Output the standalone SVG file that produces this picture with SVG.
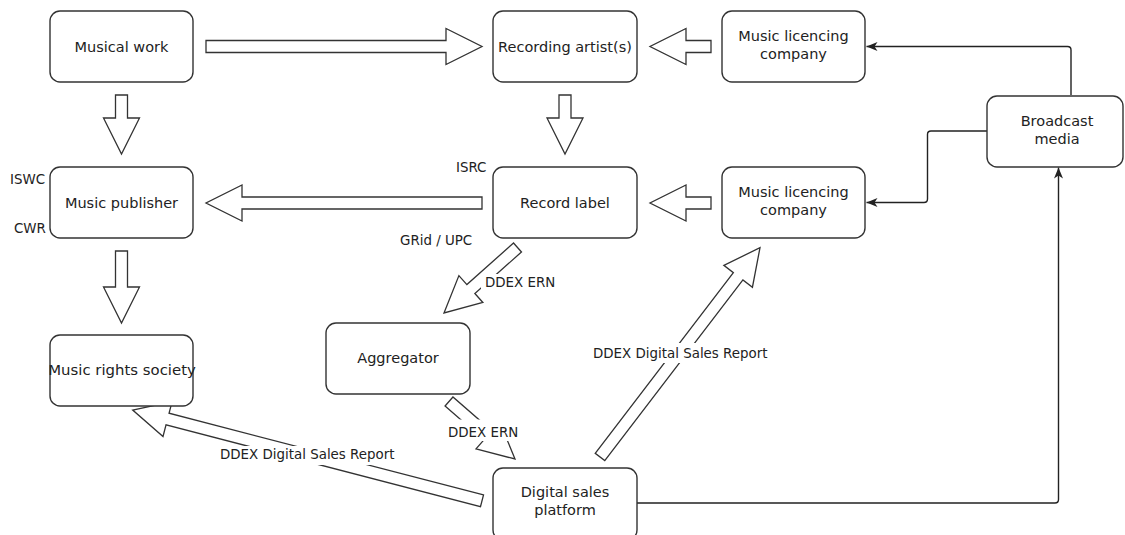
<svg xmlns="http://www.w3.org/2000/svg" width="1125" height="535" viewBox="0 0 1125 535">
<style>
.box{fill:#fff;stroke:#333;stroke-width:1.4}
.t{font-family:"DejaVu Sans","Liberation Sans",sans-serif;font-size:14.5px;fill:#222;text-anchor:middle}
.lb{font-family:"DejaVu Sans","Liberation Sans",sans-serif;font-size:13.4px;fill:#222}
.blk{fill:#fff;stroke:#333;stroke-width:1.3;stroke-linejoin:miter}
.ln{fill:none;stroke:#222;stroke-width:1.4}
.bg{fill:#fff}
</style>
<defs>
<marker id="ah" markerUnits="userSpaceOnUse" markerWidth="12" markerHeight="10" refX="11" refY="5" orient="auto">
<path d="M0,0.5 L11,5 L0,9.5 L3,5 Z" fill="#222"/>
</marker>
</defs>
<rect width="1125" height="535" fill="#fff"/>

<g id="connectors">
<polygon class="blk" points="206,40.5 446,40.5 446,28.5 482,46.5 446,64.5 446,52.5 206,52.5"/>
<polygon class="blk" points="711,40.5 686,40.5 686,28.5 650,46.5 686,64.5 686,52.5 711,52.5"/>
<polygon class="blk" points="115.5,95 127.5,95 127.5,118 139.5,118 121.5,154 103.5,118 115.5,118"/>
<polygon class="blk" points="559,95 571,95 571,118 583,118 565,154 547,118 559,118"/>
<polygon class="blk" points="482,197 242,197 242,185 206,203 242,221 242,209 482,209"/>
<polygon class="blk" points="711,197 686,197 686,185 650,203 686,221 686,209 711,209"/>
<polygon class="blk" points="115.5,251 127.5,251 127.5,287 139.5,287 121.5,323 103.5,287 115.5,287"/>
<polygon class="blk" points="513.51,243.02 466.89,284.57 458.90,275.61 444,313 482.86,302.49 474.87,293.53 521.49,251.98"/>
<polygon class="blk" points="445.06,406.02 483.92,439.87 476.04,448.92 515,459 499.68,421.78 491.80,430.83 452.94,396.98"/>
<polygon class="blk" points="483.51,494.99 169.05,413.25 172.07,401.64 132.7,410 163.01,436.48 166.03,424.87 480.49,506.61"/>
<polygon class="blk" points="604.77,460.64 742.91,279.94 752.44,287.23 760,247.7 723.84,265.37 733.37,272.66 595.23,453.36"/>
<path class="ln" d="M1071,95 V50 Q1071,46.5 1067.5,46.5 H866.5" marker-end="url(#ah)"/>
<path class="ln" d="M987,131 H931 Q927.5,131 927.5,134.5 V199 Q927.5,202.5 924,202.5 H866.5" marker-end="url(#ah)"/>
<path class="ln" d="M637,503 H1055 Q1058.5,503 1058.5,499.5 V167.5" marker-end="url(#ah)"/>
<g id="labels">
<rect class="bg" x="481" y="274" width="74" height="18"/>
<text class="lb" x="485" y="287">DDEX ERN</text>
<rect class="bg" x="445" y="419.5" width="73" height="21.5"/>
<text class="lb" x="448" y="436.5">DDEX ERN</text>
<rect class="bg" x="216" y="446" width="183" height="19"/>
<text class="lb" x="220" y="459">DDEX Digital Sales Report</text>
<rect class="bg" x="589" y="343" width="183" height="20"/>
<text class="lb" x="593" y="357.5">DDEX Digital Sales Report</text>
<text class="lb" x="10" y="184">ISWC</text>
<text class="lb" x="14" y="233">CWR</text>
<text class="lb" x="456" y="171.5">ISRC</text>
<text class="lb" x="400" y="245">GRid / UPC</text>
</g>
</g>

<g id="musical-work"><rect class="box" x="50" y="11" width="143" height="71" rx="10"/><text class="t" x="121.5" y="51.5">Musical work</text></g>
<g id="recording-artists"><rect class="box" x="493" y="11" width="144" height="71" rx="10"/><text class="t" x="565" y="51.5">Recording artist(s)</text></g>
<g id="music-licencing-top"><rect class="box" x="722" y="11" width="143" height="71" rx="10"/><text class="t" x="793.5" y="41">Music licencing</text><text class="t" x="793.5" y="59">company</text></g>
<g id="broadcast-media"><rect class="box" x="987" y="96" width="136" height="71" rx="10"/><text class="t" x="1057" y="126">Broadcast</text><text class="t" x="1057" y="144">media</text></g>
<g id="music-publisher"><rect class="box" x="50" y="167" width="143" height="71" rx="10"/><text class="t" x="121.5" y="207.5">Music publisher</text></g>
<g id="record-label"><rect class="box" x="493" y="167" width="144" height="71" rx="10"/><text class="t" x="565" y="207.5">Record label</text></g>
<g id="music-licencing-mid"><rect class="box" x="722" y="167" width="143" height="71" rx="10"/><text class="t" x="793.5" y="197">Music licencing</text><text class="t" x="793.5" y="215">company</text></g>
<g id="music-rights-society"><rect class="box" x="50" y="335" width="143" height="71" rx="10"/><text class="t" x="122" y="375" style="font-size:14.9px">Music rights society</text></g>
<g id="aggregator"><rect class="box" x="326" y="323" width="144" height="71" rx="10"/><text class="t" x="398" y="363">Aggregator</text></g>
<g id="digital-sales-platform"><rect class="box" x="493" y="468" width="144" height="72" rx="10"/><text class="t" x="565" y="497">Digital sales</text><text class="t" x="565" y="515">platform</text></g>
</svg>
